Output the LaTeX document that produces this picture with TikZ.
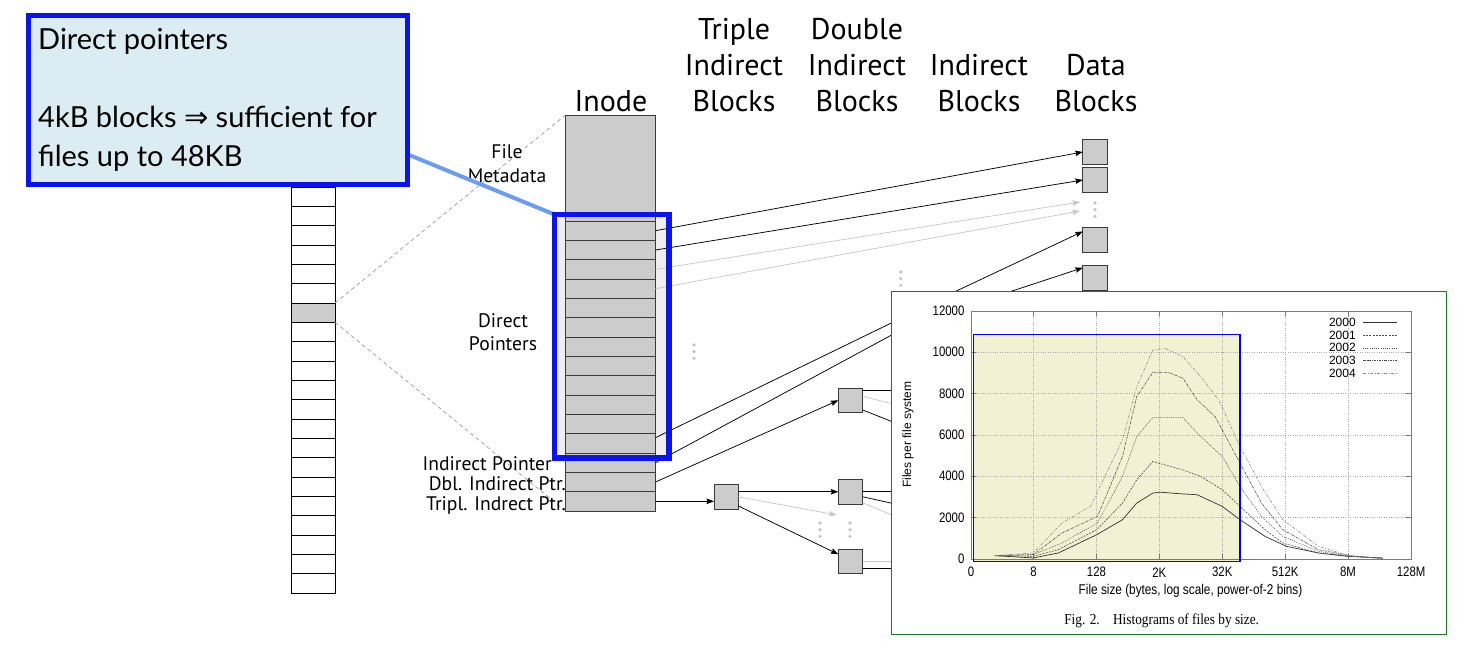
\documentclass[tikz,border=0pt]{standalone}
\usepackage{fontspec}
\usepackage{graphicx}
\setmainfont{PT Sans}
\newfontfamily\callfont{Lato}
\newfontfamily\symfont{DejaVu Sans}
\newfontfamily\helvf{Liberation Sans}
\newfontfamily\timesf{Liberation Serif}
\usetikzlibrary{arrows.meta,calc}
\definecolor{blockgray}{HTML}{CCCCCC}
\definecolor{edgegray}{HTML}{3A3A3A}
\definecolor{lightline}{HTML}{C8C8C8}
\definecolor{dashgray}{HTML}{9A9A9A}
\definecolor{dotgray}{HTML}{C4C4C4}
\definecolor{calloutfill}{HTML}{DBEDF3}
\definecolor{calloutblue}{HTML}{0A14F0}
\definecolor{framefill}{HTML}{EEEEEE}
\definecolor{linkblue}{HTML}{6C9CF0}
\definecolor{chartgreen}{HTML}{1A7A1A}
\definecolor{hlfill}{HTML}{F3F1D3}
\definecolor{gridgray}{HTML}{A8A8A8}
\definecolor{axisgray}{HTML}{7A7A7A}
\newcommand\vsc[1]{\scalebox{1}[1.2]{#1}}
\begin{document}
\begin{tikzpicture}[x=1pt,y=-1pt,
  cell/.style={draw=black, line width=0.8pt, fill=white, minimum width=43.3pt, minimum height=19.33pt, inner sep=0pt, outer sep=0pt},
  irow/.style={draw=edgegray, line width=0.8pt, fill=blockgray, minimum width=90pt, minimum height=19.33pt, inner sep=0pt, outer sep=0pt},
  blk/.style={draw=edgegray, line width=1pt, fill=blockgray, minimum size=24.4pt, inner sep=0pt, outer sep=0pt},
  ptr/.style={line width=0.75pt, draw=black, -{Stealth[length=7.5pt,width=5.5pt,inset=1pt]}},
  gptr/.style={ptr, draw=lightline},
  pln/.style={line width=0.75pt, draw=black},
  gln/.style={line width=0.75pt, draw=lightline},
  dashln/.style={draw=dashgray, line width=0.7pt, dash pattern=on 4pt off 3pt},
  dotmark/.style={fill=dotgray},
  hdr/.style={font=\fontsize{30}{36}\selectfont, anchor=base, inner sep=0pt},
  lbl/.style={font=\fontsize{19.6}{23}\selectfont, anchor=base, inner sep=0pt},
  lblr/.style={lbl, anchor=base east},
  calltxt/.style={font=\callfont\fontsize{29}{35}\selectfont, anchor=base west, inner sep=0pt},
  ticklbl/.style={font=\helvf\fontsize{11.4}{13}\selectfont, inner sep=0pt},
  leglbl/.style={font=\helvf\fontsize{12}{14}\selectfont, inner sep=0pt, anchor=east},
  gridln/.style={draw=gridgray, line width=0.5pt, dash pattern=on 0.8pt off 1.6pt},
  axisln/.style={draw=axisgray, line width=0.8pt},
  c2000/.style={draw=black!80, line width=0.7pt},
  c2001/.style={draw=black!70, line width=0.6pt, dash pattern=on 2pt off 1.2pt},
  c2002/.style={draw=black!70, line width=0.6pt, dash pattern=on 1pt off 1.2pt},
  c2003/.style={draw=black!70, line width=0.6pt, dash pattern=on 2.5pt off 1pt on 0.8pt off 1pt},
  c2004/.style={draw=black!45, line width=0.6pt, dash pattern=on 3pt off 1.5pt on 1pt off 1.5pt}
]
\useasboundingbox (0,0) rectangle (1484,652);

% ---------- left column of blocks ----------
\foreach \i in {0,...,5,7,8,...,20} {\node[cell] (L\i) at (313.35,{196.67+19.333*\i}) {};}
\node[cell, fill=blockgray] (L6) at (313.35,{196.67+19.333*6}) {};

% ---------- frame background ----------
\node[fill=framefill, minimum width=114.5pt, minimum height=243.5pt, inner sep=0pt, outer sep=0pt] (frame) at (611.75,336.25) {};

% ---------- inode ----------
\node[irow, minimum height=106pt] (meta) at (610.5,168) {};
\foreach \i in {1,...,15} {\node[irow] (r\i) at (610.5,{221+19.333*(\i-0.5)}) {};}

\draw[dashln] (L6.north east) -- (meta.north west);
\draw[dashln] (L6.south east) -- (r15.south west);

% ---------- blocks ----------
\node[blk] (d1) at (1095,152) {};
\node[blk] (d2) at (1095,180) {};
\node[blk] (d3) at (1095,240) {};
\node[blk] (d4) at (1095,278) {};
\node[blk] (tb) at (726.2,496.8) {};
\node[blk] (db1) at (850.5,400.3) {};
\node[blk] (db2) at (850.5,491.8) {};
\node[blk] (db3) at (850.5,561.3) {};

% free ends
\coordinate (g3) at (1080,202);
\coordinate (g4) at (1080,211);
\coordinate (h3) at (950,294);
\coordinate (h4) at (1000,295);
\coordinate (hA) at (900,318.8);
\coordinate (hB) at (900,330.5);
\coordinate (gT) at (836.7,515);
\coordinate (e1) at (893,390.5);
\coordinate (e2) at (893,404);
\coordinate (e3) at (893,422);
\coordinate (e4) at (893,491.8);
\coordinate (e5) at (893,503.5);
\coordinate (e6) at (893,515.5);
\coordinate (e7) at (893,561.3);
\coordinate (e8) at (893,568.3);

% ---------- connectors ----------
\draw[ptr] (r1.east) -- (d1.west);
\draw[ptr] (r2.east) -- (d2.west);
\draw[gptr] (r3.east) -- (g3);
\draw[gptr] (r4.east) -- (g4);
\draw[ptr] (h3) -- (d3.145);
\draw[ptr] (h4) -- (d4.140);
\draw[pln] ($(r12.north east)+(0,4)$) -- (hA);
\draw[pln] (r13.east) -- (hB);
\draw[ptr] (r14.east) -- (db1.west);
\draw[ptr] (r15.east) -- (tb.west |- r15.east);
\draw[ptr] (tb.east |- db2.west) -- (db2.west);
\draw[gptr] (tb.east) -- (gT);
\draw[ptr] ($(tb.south east)+(0,-3)$) -- (db3.150);
\draw[pln] ($(db1.north east)+(0,2.5)$) -- (e1);
\draw[gln] ($(db1.east)+(0,-4)$) -- (e2);
\draw[pln] ($(db1.south east)+(0,-2.5)$) -- (e3);
\draw[pln] (db2.east) -- (e4);
\draw[pln] ($(db2.east)+(0,5)$) -- (e5);
\draw[gln] ($(db2.east)+(0,11)$) -- (e6);
\draw[gln] (db3.east) -- (e7);
\draw[pln] ($(db3.east)+(0,7)$) -- (e8);

% ---------- dots ----------
\foreach \dx/\dy in {1095/203, 694/345, 900.7/272, 820/523, 850/523} {
  \fill[dotmark] (\dx,\dy) circle (1.8);
  \fill[dotmark] (\dx,\dy+6.7) circle (1.8);
  \fill[dotmark] (\dx,\dy+13.4) circle (1.8);
}

% ---------- labels ----------
\node[lbl] (fileA) at (507,159) {File};
\node[lbl] (fileB) at (507,183) {Metadata};
\node[lbl] (dirA) at (503,327.5) {Direct};
\node[lbl] (dirB) at (503,351) {Pointers};
\node[lblr] (ip) at (552,470) {Indirect Pointer};
\node[lblr] (dip) at (566,490) {Dbl. Indirect Ptr.};
\node[lblr] (tip) at (566,510) {Tripl. Indrect Ptr.};

% ---------- headers ----------
\node[hdr] (hI) at (611,112) {Inode};
\node[hdr] (hTa) at (734,40) {Triple};
\node[hdr] (hTb) at (734,76) {Indirect};
\node[hdr] (hTc) at (734,112) {Blocks};
\node[hdr] (hDa) at (857,40) {Double};
\node[hdr] (hDb) at (857,76) {Indirect};
\node[hdr] (hDc) at (857,112) {Blocks};
\node[hdr] (hXa) at (979,76) {Indirect};
\node[hdr] (hXb) at (979,112) {Blocks};
\node[hdr] (hBa) at (1096,76) {Data};
\node[hdr] (hBb) at (1096,112) {Blocks};

% ---------- callout ----------
\node[draw=calloutblue, line width=4.7pt, fill=calloutfill, minimum width=379.4pt, minimum height=169.4pt, inner sep=0pt, outer sep=0pt] (callout) at (218,100) {};
\draw[linkblue, line width=4pt] (callout.-16) -- (frame.north west);
\draw[calloutblue, line width=5.5pt] (frame.north west) rectangle (frame.south east);
\node[draw=calloutblue, line width=4.7pt, fill=calloutfill, minimum width=379.4pt, minimum height=169.4pt, inner sep=0pt, outer sep=0pt] (callout) at (218,100) {};
\node[calltxt] (ct1) at (38,50) {Direct pointers};
\node[calltxt] (ct2) at (38,128) {4kB blocks {\symfont ⇒} sufficient for};
\node[calltxt] (ct3) at (38,167) {files up to 48KB};

% ---------- chart ----------
\node[draw=chartgreen, line width=1.5pt, fill=white, minimum width=555pt, minimum height=343pt, inner sep=0pt, outer sep=0pt] (chart) at (1169,463) {};
\begin{scope}[shift={(890.8,290.3)}, x=0.3564pt, y=-0.3325pt]
  \fill[hlfill] (233,133) rectangle (980,815);
  \foreach \gx in {400.5,577,753.5,930,1106.5,1283} {
    \draw[gridln] (\gx,62) -- (\gx,808);
    \draw[axisln] (\gx,808) -- (\gx,794);
    \draw[axisln] (\gx,62) -- (\gx,76);
  }
  \foreach \gy in {186.3,310.7,435,559.3,683.7} {
    \draw[gridln] (225,\gy) -- (1460,\gy);
    \draw[axisln] (225,\gy) -- (240,\gy);
    \draw[axisln] (1460,\gy) -- (1445,\gy);
  }
  \draw[axisln] (225,62) rectangle (1460,808);
  \foreach \v/\yy in {0/808, 2000/683.7, 4000/559.3, 6000/435, 8000/310.7, 10000/186.3, 12000/62} {
    \node[ticklbl, anchor=east] (yt\v) at (207,\yy) {\vsc{\v}};
  }
  \foreach \lab/\xx [count=\k] in {0/225, 8/400.5, 128/577, 2K/753.5, 32K/930, 512K/1106.5, 8M/1283, 128M/1460} {
    \node[ticklbl] (xt\k) at (\xx,848) {\vsc{\lab}};
  }
  \node[font=\helvf\fontsize{11.8}{14}\selectfont, inner sep=0pt] (xtitle) at (841,905) {\vsc{File size (bytes, log scale, power-of-2 bins)}};
  \node[font=\helvf\fontsize{12}{14}\selectfont, inner sep=0pt, rotate=90] (ytitle) at (48,435) {Files per file system};
  \node[font=\timesf\fontsize{13.3}{15}\selectfont, inner sep=0pt] (caption) at (760,995) {\scalebox{1}[1.15]{Fig. 2.\quad Histograms of files by size.}};
  % curves
  \draw[c2000] plot coordinates {(292,798) (400,805) (470,790) (578,735) (650,690) (690,640) (735,610) (755,607) (800,611) (860,615) (930,650) (980,690) (1050,740) (1110,770) (1200,790) (1280,800) (1380,805)};
  \draw[c2001] plot coordinates {(292,798) (400,800) (470,780) (578,720) (650,640) (690,570) (735,515) (820,540) (870,560) (930,600) (980,650) (1050,720) (1100,760) (1200,790) (1290,800) (1380,806)};
  \draw[c2002] plot coordinates {(292,798) (400,795) (480,760) (580,700) (650,560) (690,440) (735,383) (820,383) (860,430) (930,500) (980,590) (1040,680) (1100,740) (1200,785) (1290,800) (1380,806)};
  \draw[c2003] plot coordinates {(292,798) (400,795) (480,730) (580,680) (650,500) (690,320) (735,247) (780,247) (820,265) (860,330) (910,380) (980,520) (1040,640) (1100,720) (1200,780) (1290,798) (1380,806)};
  \draw[c2004] plot coordinates {(292,798) (400,790) (480,700) (560,650) (650,450) (690,290) (735,180) (770,175) (820,200) (870,260) (920,330) (980,470) (1040,590) (1100,690) (1200,770) (1290,800) (1380,806)};
  % legend
  \node[leglbl] (lg0) at (1305,97) {2000};
  \node[leglbl] (lg1) at (1305,135) {2001};
  \node[leglbl] (lg2) at (1305,173) {2002};
  \node[leglbl] (lg3) at (1305,211) {2003};
  \node[leglbl] (lg4) at (1305,250) {2004};
  \draw[c2000] (lg0.east) ++(20,0) -- ++(95,0);
  \draw[c2001] (lg1.east) ++(20,0) -- ++(95,0);
  \draw[c2002] (lg2.east) ++(20,0) -- ++(95,0);
  \draw[c2003] (lg3.east) ++(20,0) -- ++(95,0);
  \draw[c2004] (lg4.east) ++(20,0) -- ++(95,0);
  \draw[draw=blue, line width=1.2pt] (233,133) rectangle (980,815);
\end{scope}
\end{tikzpicture}
\end{document}
